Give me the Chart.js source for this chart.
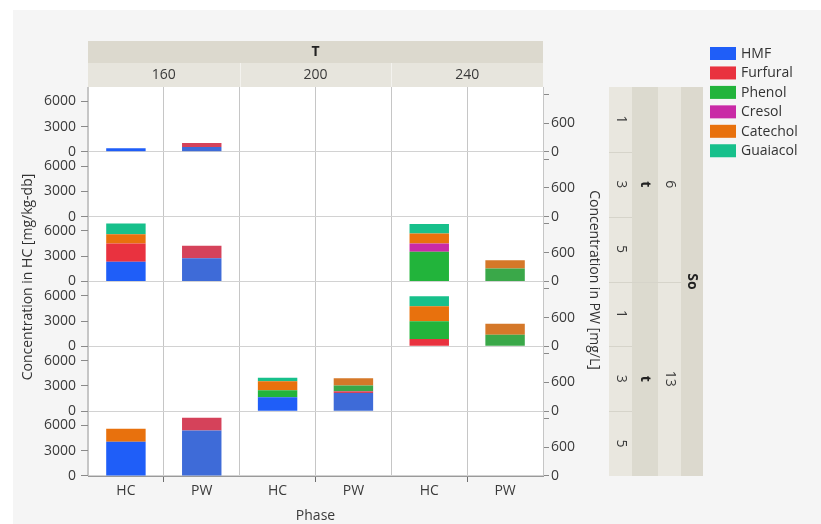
<!DOCTYPE html>
<html>
<head>
<meta charset="utf-8">
<script src="https://cdn.jsdelivr.net/npm/chart.js@4.4.1/dist/chart.umd.min.js"></script>
<style>
  html, body { margin: 0; padding: 0; background: #ffffff; }
  #wrap { width: 821px; height: 524px; position: relative; }
</style>
</head>
<body>
<div id="wrap"><canvas id="c" width="821" height="524"></canvas></div>
<script>
// Facet levels
const temperatures = ['160', '200', '240'];
const phases = ['HC', 'PW'];
const compounds = ['HMF', 'Furfural', 'Phenol', 'Cresol', 'Catechol', 'Guaiacol'];
const soLevels = ['6', '13'];
const timeLevels = ['1', '3', '5'];

// Values per facet row (So 6: t 1,3,5 then So 13: t 1,3,5) and per T column (160, 200, 240)
// Hydrochar, mg/kg-db
const hmfHC      = [[420, 0, 0], [0, 0, 0], [2340, 0, 0], [0, 0, 0], [0, 1660, 0], [4075, 0, 0]];
const furfuralHC = [[0, 0, 0], [0, 0, 0], [2175, 0, 0], [0, 0, 870], [0, 0, 0], [0, 0, 0]];
const phenolHC   = [[0, 0, 0], [0, 0, 0], [0, 0, 3530], [0, 0, 2100], [0, 830, 0], [0, 0, 0]];
const cresolHC   = [[0, 0, 0], [0, 0, 0], [0, 0, 990], [0, 0, 0], [0, 0, 0], [0, 0, 0]];
const catecholHC = [[0, 0, 0], [0, 0, 0], [1105, 0, 1190], [0, 0, 1780], [0, 1070, 0], [1545, 0, 0]];
const guaiacolHC = [[0, 0, 0], [0, 0, 0], [1270, 0, 1110], [0, 0, 1190], [0, 400, 0], [0, 0, 0]];
// Process water, mg/L
const hmfPW      = [[100, 0, 0], [0, 0, 0], [485, 0, 0], [0, 0, 0], [0, 380, 0], [950, 0, 0]];
const furfuralPW = [[85, 0, 0], [0, 0, 0], [260, 0, 0], [0, 0, 0], [0, 35, 0], [262, 0, 0]];
const phenolPW   = [[0, 0, 0], [0, 0, 0], [0, 0, 270], [0, 0, 243], [0, 118, 0], [0, 0, 0]];
const cresolPW   = [[0, 0, 0], [0, 0, 0], [0, 0, 0], [0, 0, 0], [0, 0, 0], [0, 0, 0]];
const catecholPW = [[0, 0, 0], [0, 0, 0], [0, 0, 173], [0, 0, 229], [0, 152, 0], [0, 0, 0]];
const guaiacolPW = [[0, 0, 0], [0, 0, 0], [0, 0, 0], [0, 0, 0], [0, 0, 0], [0, 0, 0]];

// Axis ranges and tick values per row
const hcMax = 7700;
const hcTicks = [0, 3000, 6000];
const pwMax = 1350;
const pwTicks = [0, 600, 1200];
const pwLabelled = [0, 600];

const hcColors = ['#1f5ef8', '#e9323f', '#22b43b', '#c92aa6', '#e8710d', '#17c08b'];
const pwColors = ['#3e6bd8', '#d5425a', '#3aa849', '#b53c9c', '#d57829', '#2fb08a'];

const hcSeries = [hmfHC, furfuralHC, phenolHC, cresolHC, catecholHC, guaiacolHC];
const pwSeries = [hmfPW, furfuralPW, phenolPW, cresolPW, catecholPW, guaiacolPW];

const FONT = "'Open Sans', 'Noto Sans', sans-serif";
const rowCount = soLevels.length * timeLevels.length;

// x categories: HC/PW within each temperature
const xLabels = [];
temperatures.forEach(() => phases.forEach(p => xLabels.push(p)));

// one stacked dataset per row, phase and compound
const datasets = [];
for (let r = 0; r < rowCount; r++) {
  [hcSeries, pwSeries].forEach((series, p) => {
    series.forEach((arr, c) => {
      const data = xLabels.map(() => null);
      temperatures.forEach((_, ti) => {
        const v = arr[r][ti];
        data[ti * 2 + p] = v > 0 ? v : null;
      });
      datasets.push({
        label: compounds[c],
        data,
        yAxisID: (p === 0 ? 'L' : 'R') + r,
        backgroundColor: p === 0 ? hcColors[c] : pwColors[c],
        borderWidth: 0,
        categoryPercentage: 1,
        barPercentage: 0.52
      });
    });
  });
}

// stacked y scales, one pair per facet row
const scales = {
  x: {
    stacked: true,
    offset: true,
    grid: {
      offset: true,
      color: '#c6c6c6',
      tickLength: 6,
      tickColor: ctx => (ctx.index !== undefined && ctx.index % 2 === 1 ? '#6e6e6e' : 'rgba(0,0,0,0)')
    },
    border: { color: '#9a9a9a' },
    ticks: { padding: 1, font: { size: 14, family: FONT }, color: '#3a3a3a', maxRotation: 0, autoSkip: false },
    title: { display: true, text: 'Phase', font: { size: 14, family: FONT }, color: '#3a3a3a', padding: { top: 0, bottom: 0 } },
    afterFit: s => { s.height = 48; }
  }
};
for (let r = 0; r < rowCount; r++) {
  scales['L' + r] = {
    type: 'linear', position: 'left', stack: 'left', stackWeight: 1, weight: rowCount - r,
    stacked: true, min: 0, max: hcMax,
    grid: {
      color: ctx => (ctx.tick && ctx.tick.value === 0 ? '#d2d2d2' : 'rgba(0,0,0,0)'),
      tickColor: '#8a8a8a', tickLength: 7
    },
    border: { color: '#c6c6c6' },
    ticks: { autoSkip: false, padding: 5, font: { size: 14, family: FONT }, color: '#3a3a3a', callback: v => String(v) },
    afterBuildTicks: s => { s.ticks = hcTicks.map(v => ({ value: v })); },
    afterFit: s => { s.width = 88; }
  };
  scales['R' + r] = {
    type: 'linear', position: 'right', stack: 'right', stackWeight: 1, weight: r,
    stacked: true, min: 0, max: pwMax,
    grid: { drawOnChartArea: false, color: '#8a8a8a', tickColor: '#8a8a8a', tickLength: 6 },
    border: { color: '#c6c6c6' },
    ticks: {
      autoSkip: false, padding: 2, font: { size: 14, family: FONT }, color: '#3a3a3a',
      callback: v => (pwLabelled.includes(v) ? String(v) : '')
    },
    afterBuildTicks: s => { s.ticks = pwTicks.map(v => ({ value: v })); },
    afterFit: s => { s.width = 50; }
  };
}

function rotText(ctx, text, x, y, angle, font, color) {
  ctx.save();
  ctx.translate(x, y);
  ctx.rotate(angle);
  ctx.font = font;
  ctx.fillStyle = color;
  ctx.textAlign = 'center';
  ctx.textBaseline = 'middle';
  ctx.fillText(text, 0, 0);
  ctx.restore();
}

// panel background, facet strips, axis titles and legend
const facetFrame = {
  id: 'facetFrame',
  beforeDraw(chart) {
    const { ctx, chartArea: a } = chart;
    ctx.save();
    ctx.fillStyle = '#f5f5f5';
    ctx.fillRect(13, 10, chart.width - 13, chart.height - 10);
    ctx.fillStyle = '#ffffff';
    ctx.fillRect(a.left, a.top, a.right - a.left, a.bottom - a.top);
    ctx.restore();
  },
  afterDraw(chart) {
    const { ctx, chartArea: a } = chart;
    const colW = (a.right - a.left) / temperatures.length;
    const rowH = (a.bottom - a.top) / rowCount;
    ctx.save();

    // top strips: T and its levels
    ctx.fillStyle = '#dcd9ce';
    ctx.fillRect(a.left, 41, a.right - a.left, 22);
    ctx.fillStyle = '#e7e5dd';
    ctx.fillRect(a.left, 63, a.right - a.left, a.top - 63);
    ctx.strokeStyle = '#f3f2ee';
    ctx.lineWidth = 1;
    for (let i = 1; i < temperatures.length; i++) {
      const x = Math.round(a.left + i * colW) + 0.5;
      ctx.beginPath(); ctx.moveTo(x, 63); ctx.lineTo(x, a.top); ctx.stroke();
    }
    ctx.fillStyle = '#222';
    ctx.textAlign = 'center'; ctx.textBaseline = 'middle';
    ctx.font = 'bold 14px ' + FONT;
    ctx.fillText('T', (a.left + a.right) / 2, 52.5);
    ctx.font = '14px ' + FONT;
    ctx.fillStyle = '#3a3a3a';
    temperatures.forEach((t, i) => ctx.fillText(t, a.left + (i + 0.5) * colW, 75.5));

    // right strips: t levels, t, So levels, So
    const sx = [609, 632, 658, 681, 703];
    const fills = ['#e9e7df', '#dcdacf', '#e9e7df', '#dcd9ce'];
    fills.forEach((f, i) => { ctx.fillStyle = f; ctx.fillRect(sx[i], a.top, sx[i + 1] - sx[i], a.bottom - a.top); });
    ctx.strokeStyle = '#d6d4ca';
    for (let r = 1; r < rowCount; r++) {
      const y = Math.round(a.top + r * rowH) + 0.5;
      const x2 = r % timeLevels.length === 0 ? sx[3] : sx[1];
      ctx.beginPath(); ctx.moveTo(sx[0], y); ctx.lineTo(x2, y); ctx.stroke();
    }
    const q = Math.PI / 2;
    for (let r = 0; r < rowCount; r++) {
      rotText(ctx, timeLevels[r % timeLevels.length], 620.5, a.top + (r + 0.5) * rowH, q, '14px ' + FONT, '#3a3a3a');
    }
    soLevels.forEach((s, i) => {
      const yc = a.top + (i + 0.5) * timeLevels.length * rowH;
      rotText(ctx, 't', 645, yc, q, 'bold 14px ' + FONT, '#222');
      rotText(ctx, s, 669.5, yc, q, '14px ' + FONT, '#3a3a3a');
    });
    rotText(ctx, 'So', 692, (a.top + a.bottom) / 2, q, 'bold 14px ' + FONT, '#222');

    // axis titles
    rotText(ctx, 'Concentration in HC [mg/kg-db]', 28, 277, -q, '14px ' + FONT, '#333');
    rotText(ctx, 'Concentration in PW [mg/L]', 594, 280, q, '14px ' + FONT, '#333');

    // legend
    ctx.textAlign = 'left'; ctx.textBaseline = 'middle';
    ctx.font = '14px ' + FONT;
    compounds.forEach((name, i) => {
      const yc = 53.5 + i * 19.45;
      ctx.fillStyle = hcColors[i];
      ctx.fillRect(710, yc - 6.5, 26, 13);
      ctx.fillStyle = '#333';
      ctx.fillText(name, 741, yc + 0.5);
    });
    ctx.restore();
  }
};

Chart.defaults.font.family = FONT;
new Chart(document.getElementById('c'), {
  type: 'bar',
  data: { labels: xLabels, datasets },
  options: {
    responsive: false,
    animation: false,
    layout: { padding: { top: 87, left: 0, right: 228, bottom: 0 } },
    plugins: { legend: { display: false }, tooltip: { enabled: false } },
    scales
  },
  plugins: [facetFrame]
});
</script>
</body>
</html>
